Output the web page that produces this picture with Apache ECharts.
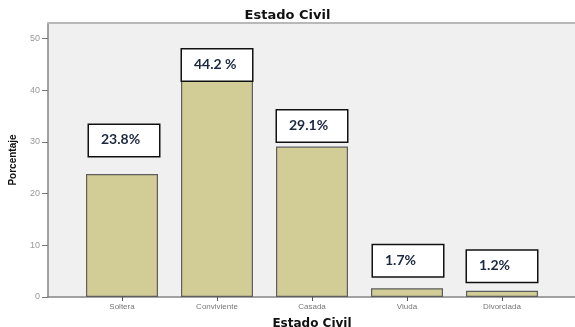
<!DOCTYPE html>
<html>
<head>
<meta charset="utf-8">
<script src="https://cdn.jsdelivr.net/npm/echarts@6/dist/echarts.min.js"></script>
<style>
  html, body { margin: 0; padding: 0; background: #fff; }
  #estadoChart { width: 575px; height: 327px; }
</style>
</head>
<body>
<div id="estadoChart"></div>
<script>
// datos
const categorias = ['Soltera', 'Conviviente', 'Casada', 'Viuda', 'Divorciada'];
const porcentajes = [23.8, 44.2, 29.1, 1.7, 1.2];
const etiquetas = ['23.8%', '44.2 %', '29.1%', '1.7%', '1.2%'];
const yTicks = [0, 10, 20, 30, 40, 50];

// how far the text boxes sit above each bar (they were placed by hand in the original)
const boxLift = [18, -12, 5, 12, 9];
const boxShift = [2, 0, 0, 1, 0];

var chart = echarts.init(document.getElementById('estadoChart'));

var option = {
  animation: false,
  title: {
    text: 'Estado Civil',
    left: 'center',
    top: 4,
    textStyle: { fontFamily: 'DejaVu Sans', fontWeight: 'bold', fontSize: 13, color: '#111' }
  },
  grid: [
    // fondo gris + eje y
    { left: 48, right: -1, top: 23, bottom: 30, show: true, backgroundColor: '#f0f0f0', borderWidth: 0, outerBoundsMode: 'none' },
    // zona de las barras
    { left: 74.5, right: 25.5, top: 23, bottom: 30, outerBoundsMode: 'none' }
  ],
  xAxis: [
    {
      gridIndex: 0, type: 'value', min: 0, max: 1, position: 'bottom',
      axisLine: { show: true, lineStyle: { color: '#858585', width: 1.5 } },
      axisTick: { show: false }, axisLabel: { show: false }, splitLine: { show: false }
    },
    {
      gridIndex: 0, type: 'value', min: 0, max: 1, position: 'top',
      axisLine: { show: true, lineStyle: { color: '#b8b8b8', width: 2 } },
      axisTick: { show: false }, axisLabel: { show: false }, splitLine: { show: false }
    },
    {
      gridIndex: 1, type: 'category', data: categorias, boundaryGap: true,
      axisLine: { show: false },
      axisTick: { show: true, alignWithLabel: true, length: 4, lineStyle: { color: '#555' } },
      axisLabel: { fontFamily: 'Liberation Sans', fontSize: 8, color: '#777', margin: 6 },
      name: 'Estado Civil', nameLocation: 'middle', nameGap: 21,
      nameTextStyle: { fontFamily: 'DejaVu Sans', fontWeight: 'bold', fontSize: 12, color: '#111' }
    }
  ],
  yAxis: [
    {
      gridIndex: 0, type: 'value', min: 0, max: 53,
      axisLine: { show: true, lineStyle: { color: '#858585', width: 1.5 } },
      axisTick: { show: true, length: 6, customValues: yTicks, lineStyle: { color: '#777' } },
      axisLabel: { customValues: yTicks, fontFamily: 'Liberation Sans', fontSize: 9, color: '#999', margin: 8 },
      splitLine: { show: false },
      name: 'Porcentaje', nameLocation: 'middle', nameGap: 30, nameRotate: 90,
      nameTextStyle: { fontFamily: 'Liberation Sans', fontWeight: 'bold', fontSize: 10, color: '#111' }
    },
    {
      gridIndex: 1, type: 'value', min: 0, max: 53, show: false, splitLine: { show: false }
    }
  ],
  series: [
    {
      name: 'Porcentaje',
      type: 'bar',
      xAxisIndex: 2,
      yAxisIndex: 1,
      barWidth: 72,
      itemStyle: { color: '#d2cd96', borderColor: '#5e5e5e', borderWidth: 1.2 },
      data: porcentajes.map(function (v, i) {
        return {
          value: v,
          label: {
            show: true,
            position: 'top',
            distance: 0,
            offset: [boxShift[i], -boxLift[i]],
            formatter: '{t|' + etiquetas[i] + '}',
            backgroundColor: '#fff',
            borderColor: '#111',
            borderWidth: 1.5,
            padding: [8, 12],
            width: 46,
            height: 15,
            align: 'center',
            rich: {
              t: {
                align: 'left',
                fontFamily: 'Lato',
                fontWeight: 'bold',
                fontSize: 14,
                color: '#1c2840'
              }
            }
          }
        };
      })
    }
  ]
};

chart.setOption(option);
</script>
</body>
</html>
